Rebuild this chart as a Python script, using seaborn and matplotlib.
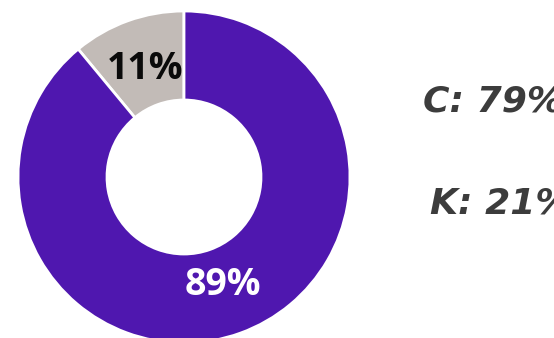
import matplotlib
matplotlib.use("Agg")
import matplotlib.pyplot as plt
import seaborn as sns

categories = ["Other", "Main"]
values = [11, 89]
colors = ["#C2BBB7", "#4F17AF"]
label_colors = ["#0a0a0a", "#ffffff"]
side_labels = ["C: 79%", "K: 21%"]

sns.set_theme(style="white")
plt.rcParams['font.family'] = ['Open Sans', 'DejaVu Sans']

W, H = 554, 338
fig = plt.figure(figsize=(W / 100, H / 100), dpi=100)
ax = fig.add_axes([0, 0, 1, 1])

wedges, texts, autotexts = ax.pie(
    values, colors=colors, startangle=90, counterclock=True,
    center=(184, H - 177), radius=166, frame=True,
    autopct=lambda p: f"{p:.0f}%", pctdistance=0.69,
    wedgeprops=dict(width=89, edgecolor="white", linewidth=2),
    textprops=dict(fontsize=27, fontweight="bold"),
)
for t, c in zip(autotexts, label_colors):
    t.set_color(c)
ax.set_xlim(0, W)
ax.set_ylim(0, H)
ax.set_aspect("equal")
ax.axis("off")

for lbl, x, y in zip(side_labels, [423, 430], [112, 214]):
    ax.text(x, H - y, lbl, fontsize=26, fontweight="bold",
            fontstyle="italic", family=["DejaVu Sans"],
            color="#3c3c3c", ha="left", va="baseline")

fig.savefig("out.png", dpi=100)
